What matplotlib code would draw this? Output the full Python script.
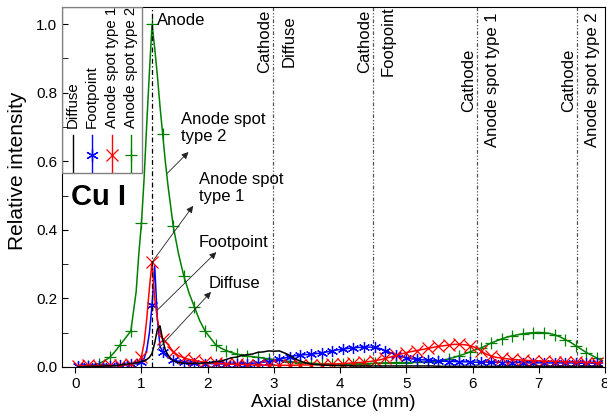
import numpy as np
import matplotlib
matplotlib.use('Agg')
import matplotlib.pyplot as plt
from matplotlib.patches import Rectangle

plt.rcParams['font.family'] = ['Liberation Sans', 'DejaVu Sans']

# 轴向距离网格 (mm)：峰附近加密
x_mm = np.round(np.concatenate([
    np.arange(0.04, 0.93, 0.08),
    np.arange(0.96, 1.45, 0.04),
    np.arange(1.48, 7.97, 0.08),
]), 2)

# Diffuse (black)
diffuse = [
    0.001, 0.001, 0.002, 0.002, 0.002, 0.003, 0.003, 0.004, 0.006, 0.008, 0.010, 0.012,
    0.014, 0.016, 0.018, 0.022, 0.028, 0.040, 0.070, 0.110, 0.120, 0.080, 0.050, 0.035, 0.025,
    0.018, 0.013, 0.011, 0.010, 0.011, 0.010, 0.012, 0.013, 0.016, 0.017,
    0.022, 0.027, 0.029, 0.034, 0.036, 0.038, 0.043, 0.044, 0.047, 0.046,
    0.047, 0.041, 0.034, 0.024, 0.017, 0.012, 0.009, 0.007, 0.006, 0.005,
    0.005, 0.004, 0.004, 0.004, 0.003, 0.003, 0.003, 0.003, 0.003, 0.003,
    0.003, 0.003, 0.003, 0.003, 0.003, 0.003, 0.003, 0.003, 0.003, 0.003,
    0.002, 0.002, 0.002, 0.002, 0.002, 0.002, 0.002, 0.002, 0.002, 0.002,
    0.002, 0.002, 0.002, 0.002, 0.002, 0.002, 0.002, 0.002, 0.002, 0.002,
    0.002, 0.002, 0.002, 0.002, 0.002, 0.002, 0.002, 0.002, 0.002, 0.002,
    0.002, 0.002,
]

# Footpoint (blue)
footpoint = [
    0.002, 0.002, 0.002, 0.003, 0.003, 0.003, 0.004, 0.004, 0.005, 0.006, 0.008, 0.010,
    0.012, 0.016, 0.025, 0.050, 0.100, 0.180, 0.295, 0.140, 0.060, 0.045, 0.035, 0.028, 0.024,
    0.020, 0.017, 0.015, 0.013, 0.012, 0.011, 0.010, 0.010, 0.009, 0.009,
    0.009, 0.009, 0.009, 0.010, 0.010, 0.011, 0.012, 0.014, 0.016, 0.019,
    0.022, 0.026, 0.030, 0.033, 0.035, 0.036, 0.037, 0.039, 0.041, 0.044,
    0.047, 0.050, 0.052, 0.054, 0.056, 0.057, 0.058, 0.058, 0.057, 0.054,
    0.048, 0.042, 0.036, 0.031, 0.027, 0.024, 0.022, 0.021, 0.020, 0.019,
    0.018, 0.017, 0.016, 0.016, 0.015, 0.015, 0.015, 0.014, 0.014, 0.014,
    0.014, 0.014, 0.013, 0.013, 0.013, 0.013, 0.013, 0.012, 0.012, 0.012,
    0.012, 0.012, 0.011, 0.012, 0.011, 0.012, 0.011, 0.011, 0.012, 0.011,
    0.011, 0.011,
]

# Anode spot type 1 (red)
spot1 = [
    0.004, 0.003, 0.005, 0.004, 0.003, 0.004, 0.005, 0.004, 0.005, 0.006, 0.008, 0.012,
    0.015, 0.030, 0.070, 0.140, 0.230, 0.306, 0.200, 0.140, 0.100, 0.083, 0.074, 0.066, 0.055,
    0.045, 0.033, 0.027, 0.022, 0.019, 0.016, 0.014, 0.012, 0.011, 0.010,
    0.009, 0.008, 0.008, 0.007, 0.007, 0.006, 0.006, 0.006, 0.005, 0.005,
    0.005, 0.005, 0.005, 0.005, 0.006, 0.006, 0.006, 0.007, 0.007, 0.008,
    0.008, 0.009, 0.010, 0.011, 0.012, 0.013, 0.014, 0.016, 0.018, 0.021,
    0.025, 0.029, 0.034, 0.038, 0.042, 0.045, 0.048, 0.051, 0.054, 0.057,
    0.060, 0.062, 0.064, 0.066, 0.066, 0.065, 0.062, 0.057, 0.048, 0.038,
    0.032, 0.028, 0.026, 0.024, 0.022, 0.021, 0.020, 0.019, 0.018, 0.018,
    0.017, 0.017, 0.016, 0.016, 0.015, 0.015, 0.014, 0.014, 0.013, 0.013,
    0.012, 0.012,
]

# Anode spot type 2 (green)
spot2 = [
    0.000, 0.000, 0.002, 0.005, 0.010, 0.018, 0.028, 0.045, 0.065, 0.085, 0.105, 0.220,
    0.330, 0.420, 0.550, 0.710, 0.860, 1.000, 0.930, 0.850, 0.760, 0.680, 0.600, 0.530, 0.470,
    0.410, 0.330, 0.265, 0.215, 0.175, 0.135, 0.105, 0.085, 0.065, 0.055,
    0.048, 0.042, 0.038, 0.034, 0.032, 0.030, 0.028, 0.026, 0.024, 0.022,
    0.020, 0.018, 0.016, 0.014, 0.013, 0.012, 0.011, 0.010, 0.009, 0.009,
    0.008, 0.008, 0.008, 0.008, 0.009, 0.009, 0.010, 0.010, 0.011, 0.012,
    0.012, 0.012, 0.013, 0.013, 0.013, 0.013, 0.014, 0.014, 0.015, 0.016,
    0.017, 0.020, 0.024, 0.028, 0.033, 0.038, 0.044, 0.050, 0.055, 0.062,
    0.070, 0.076, 0.082, 0.087, 0.091, 0.094, 0.097, 0.099, 0.100, 0.101,
    0.100, 0.098, 0.094, 0.088, 0.080, 0.072, 0.062, 0.052, 0.042, 0.034,
    0.026, 0.018,
]

# 电极位置 (mm)
anode_x = 1.16
cathode_x = [2.99, 4.49, 6.07, 7.58]
cathode_labels = ['Diffuse', 'Footpoint', 'Anode spot type 1', 'Anode spot type 2']
cathode_text_y = [0.95, 0.95, 0.837, 0.837]

# name -> (数据, 颜色, 标记)
styles = {
    'Diffuse': (diffuse, 'black', None),
    'Footpoint': (footpoint, '#0000ff', (6, 2, 0)),
    'Anode spot type 1': (spot1, '#ff0000', 'x'),
    'Anode spot type 2': (spot2, '#008000', '+'),
}
draw_order = ['Anode spot type 2', 'Footpoint', 'Anode spot type 1', 'Diffuse']
legend_order = ['Diffuse', 'Footpoint', 'Anode spot type 1', 'Anode spot type 2']

fig = plt.figure(figsize=(6.07, 4.16), dpi=100)
ax = fig.add_axes([62 / 607, 49 / 416, 543 / 607, 360 / 416])

# 每隔 0.16 mm 画一个标记
mark_idx = [i for i, v in enumerate(x_mm) if abs((v - 0.04) / 0.16 - round((v - 0.04) / 0.16)) < 1e-6]

for name in draw_order:
    vals, color, mk = styles[name]
    ax.plot(x_mm, vals, color=color, lw=1.1, marker=mk, markersize=8,
            markeredgewidth=0.9, markevery=mark_idx)

# 阳极 / 阴极位置
ax.axvline(anode_x, color='black', lw=0.9, ls=(0, (4, 2, 1, 2)))
for cx, lab, ty in zip(cathode_x, cathode_labels, cathode_text_y):
    ax.axvline(cx, color='#555555', lw=0.9, ls=(0, (3, 1.5, 1, 1.5, 1, 1.5)))
    ax.text(cx - 0.01, ty, 'Cathode', rotation=90, ha='right', va='center', fontsize=12)
    ax.text(cx + 0.12, ty, lab, rotation=90, ha='left', va='center', fontsize=12)

ax.text(1.24, 1.012, 'Anode', ha='left', va='center', fontsize=12)

# 标注箭头
notes = [
    ('Anode spot\ntype 2', (1.59, 0.697), (1.39, 0.565), (1.71, 0.627)),
    ('Anode spot\ntype 1', (1.87, 0.522), (1.16, 0.306), (1.78, 0.47)),
    ('Footpoint', (1.87, 0.364), (1.24, 0.166), (2.13, 0.335)),
    ('Diffuse', (2.02, 0.245), (1.24, 0.05), (2.05, 0.219)),
]
for txt, pos, start, tip in notes:
    ax.text(pos[0], pos[1], txt, ha='left', va='center', fontsize=12)
    ax.annotate('', xy=tip, xytext=start,
                arrowprops=dict(arrowstyle='-|>', color='#222222', lw=0.6,
                                mutation_scale=10, shrinkA=0, shrinkB=0))

# 竖排图例（Origin 风格）
ax.add_patch(Rectangle((0, 0.539), 0.147, 0.461, transform=ax.transAxes,
                       fill=False, edgecolor='#808080', lw=1, zorder=5))
leg_x = [0.020, 0.055, 0.092, 0.127]
for name, lx in zip(legend_order, leg_x):
    vals, color, mk = styles[name]
    ax.plot([lx, lx], [0.542, 0.644], transform=ax.transAxes, color=color, lw=1)
    if mk is not None:
        ax.plot([lx], [0.589], transform=ax.transAxes, color=color, marker=mk,
                markersize=9, markeredgewidth=0.9, ls='none')
    ax.text(lx, 0.664, name, transform=ax.transAxes, rotation=90,
            ha='center', va='bottom', fontsize=10.8)

ax.text(0.068, 0.472, 'Cu I', transform=ax.transAxes, ha='center', va='center',
        fontsize=21, fontweight='bold')

ax.set_xlim(-0.2, 8.0)
ax.set_ylim(0, 1.05)
ax.set_xticks(range(0, 9))
ax.set_yticks(np.arange(0, 1.01, 0.2))
ax.set_yticks(np.arange(0.1, 1.01, 0.2), minor=True)
ax.yaxis.set_major_formatter(matplotlib.ticker.FormatStrFormatter('%.1f'))
ax.tick_params(axis='x', direction='out', length=4, labelsize=11)
ax.tick_params(axis='y', which='both', direction='in', length=4, labelsize=11)
ax.set_xlabel('Axial distance (mm)', fontsize=13.5, labelpad=2)
ax.set_ylabel('Relative intensity', fontsize=15)
ax.yaxis.set_label_coords(-0.064, 0.545)

fig.savefig('out.png', dpi=100)
